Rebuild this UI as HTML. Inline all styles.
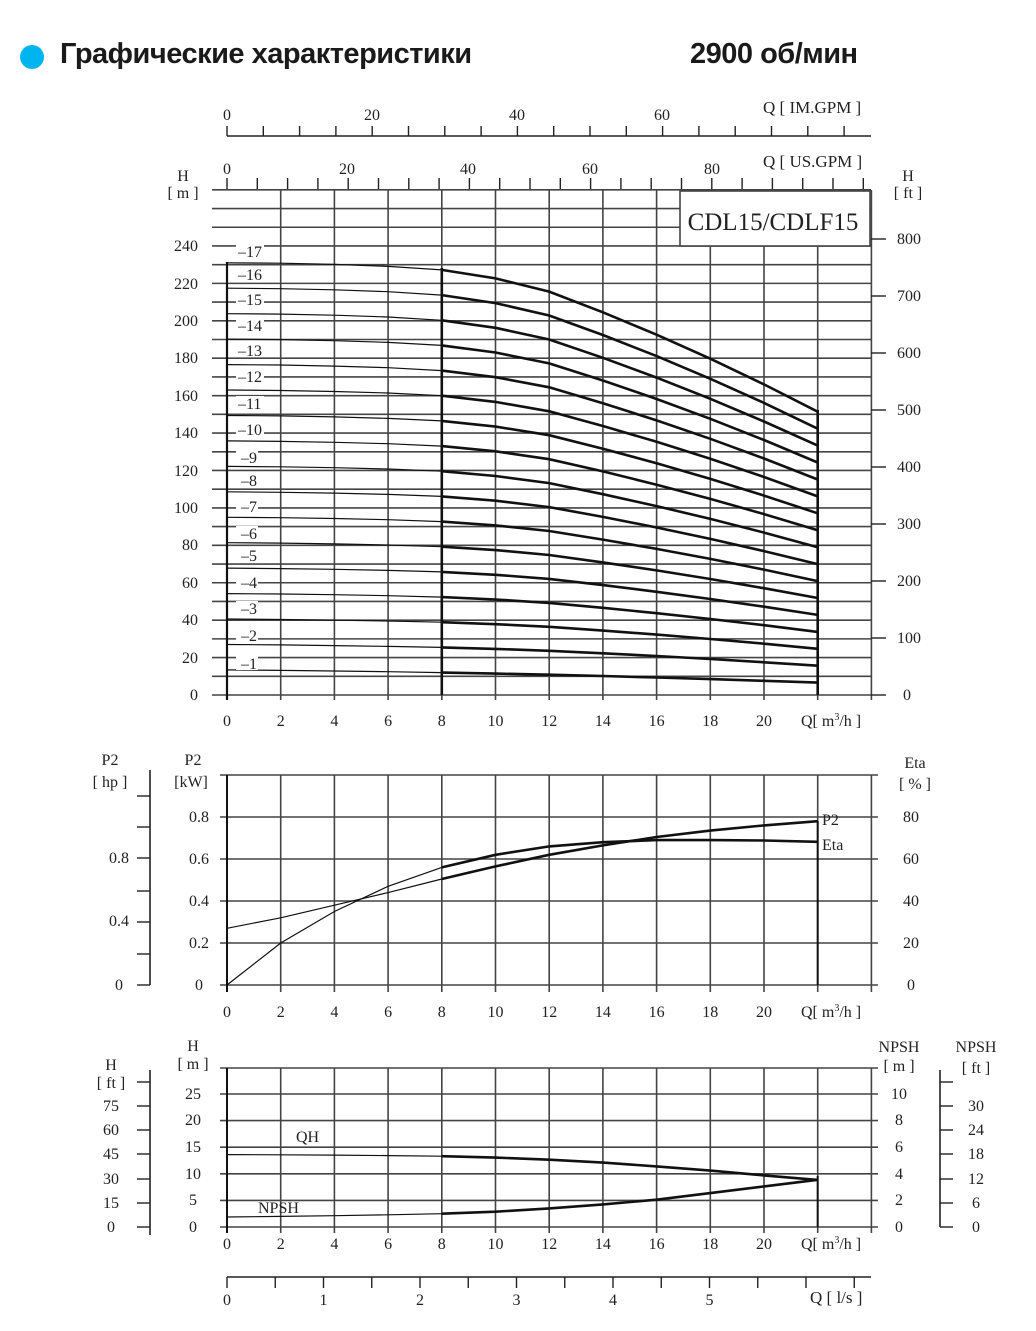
<!DOCTYPE html>
<html><head><meta charset="utf-8"><style>
html,body{margin:0;padding:0;background:#fff;}
body{width:1036px;height:1331px;position:relative;overflow:hidden;}
.h{position:absolute;font-family:"Liberation Sans","DejaVu Sans",sans-serif;font-weight:bold;font-size:29px;color:#1a1a1a;top:38px;letter-spacing:-0.5px;}
svg text{font-family:"Liberation Serif",serif;font-size:16px;fill:#222;}
</style></head><body>
<div style="position:absolute;left:20px;top:45px;width:24px;height:24px;border-radius:50%;background:#00b4ef;"></div>
<div class="h" style="left:60px;">Графические характеристики</div>
<div class="h" style="left:690px;">2900 об/мин</div>
<svg width="1036" height="1331" style="position:absolute;left:0;top:0" xmlns="http://www.w3.org/2000/svg">
<g id="grid" stroke="#444" stroke-width="1.6" fill="none"></g>
<g id="curves" stroke="#111" fill="none"></g>
<rect x="680" y="191" width="190" height="55" fill="#fff" stroke="#444" stroke-width="1.6"/>
<text x="773" y="230" text-anchor="middle" style="font-size:25px">CDL15/CDLF15</text>
<g text-anchor="middle">
<text x="227" y="120">0</text><text x="372" y="120">20</text><text x="517" y="120">40</text><text x="662" y="120">60</text>
<text x="227" y="174">0</text><text x="347" y="174">20</text><text x="468" y="174">40</text><text x="590" y="174">60</text><text x="712" y="174">80</text>
</g>
<text x="763" y="113" style="font-size:17px">Q  [ IM.GPM ]</text>
<text x="763" y="167" style="font-size:17px">Q  [ US.GPM ]</text>
<g text-anchor="middle">
<text x="183" y="181">H</text><text x="183" y="198">[ m ]</text>
<text x="908" y="181">H</text><text x="908" y="198">[ ft ]</text>
</g>
<g text-anchor="end">
<text x="198" y="700">0</text><text x="198" y="663">20</text><text x="198" y="625">40</text><text x="198" y="588">60</text><text x="198" y="550">80</text><text x="198" y="513">100</text><text x="198" y="476">120</text><text x="198" y="438">140</text><text x="198" y="401">160</text><text x="198" y="363">180</text><text x="198" y="326">200</text><text x="198" y="289">220</text><text x="198" y="251">240</text>
</g>
<g>
<text x="903" y="700">0</text><text x="897" y="643">100</text><text x="897" y="586">200</text><text x="897" y="529">300</text><text x="897" y="472">400</text><text x="897" y="415">500</text><text x="897" y="358">600</text><text x="897" y="301">700</text><text x="897" y="244">800</text>
</g>
<g id="stlab" style="font-size:15px"></g>
</svg>
<script>
const NS="http://www.w3.org/2000/svg";
const G=document.getElementById('grid'),C=document.getElementById('curves'),svg=document.querySelector('svg');
function el(p,t,a,txt){const e=document.createElementNS(NS,t);for(const k in a)e.setAttribute(k,a[k]);if(txt!==undefined)e.textContent=txt;p.appendChild(e);return e;}
function L(x1,y1,x2,y2,w,c){el(G,'line',{x1,y1,x2,y2,'stroke-width':w||1.6,stroke:c||'#444'});}
function T(x,y,s,anchor,size){el(svg,'text',{x,y,'text-anchor':anchor||'middle',style:size?('font-size:'+size+'px'):''},s);}
const X=q=>227+26.85*q;
L(227,136,871,136,1.6,'#222');for(let k=0;k<=17;k++)L(227+36.3*k,126,227+36.3*k,136,1.4,'#222');
for(let k=0;k<=21;k++)L(227+30.3*k,178,227+30.3*k,190,1.4,'#222');
for(let k=0;k<=27;k++){const y=695-18.71*k;L(212,y,871,y);}
for(let q=2;q<=24;q+=2)L(X(q),190,X(q),700);
for(let m=0;m<=8;m++){const y=695-57*m;L(871,y,886,y,1.4,'#222');}
L(227,262,227,700,2.2,'#111');
const Qs=[0,2,4,6,8,10,12,14,16,18,20,22];
const a=q=>13.4-0.1*q-0.0095*q*q;
const bt=[13.6,13.6,13.58,13.54,13.45,13.2,12.8,12.15,11.45,10.7,9.9,9.05];
function path(pts){return 'M'+pts.map(p=>p[0].toFixed(1)+','+p[1].toFixed(1)).join(' L');}
for(let n=1;n<=17;n++){
 const pts=Qs.map((q,i)=>[X(q),695-1.871*(a(q)+(n-1)*bt[i])]);
 el(C,'path',{d:path(pts.slice(0,5)),'stroke-width':1.2});
 el(C,'path',{d:path(pts.slice(4)),'stroke-width':2.6});
}
el(C,'line',{x1:X(8),y1:268,x2:X(8),y2:695,'stroke-width':2.6});
el(C,'line',{x1:X(22),y1:410,x2:X(22),y2:695,'stroke-width':2.6});
const ly=[668,640,613,587,560,538,511,485,462,434,408,381,355,330,304,279,256];
const SL=document.getElementById('stlab');
for(let n=1;n<=17;n++){const y=ly[n-1];el(SL,'rect',{x:236,y:y-12,width:n>9?28:22,height:14,fill:'#fff'});el(SL,'text',{x:n>9?238:241,y:y+1},'\u2013'+n);}
function xl(y){for(let q=0;q<=20;q+=2)T(X(q),y,String(q));const tt=el(svg,'text',{x:801,y});tt.innerHTML='Q[ m<tspan dy="-6" style="font-size:10px">3</tspan><tspan dy="6">/h ]</tspan>';}
xl(726);
for(const y of [775,817,859,901,943,985])L(220,y,878,y);
for(let q=2;q<=24;q+=2)L(X(q),775,X(q),992);
L(227,775,227,992,2,'#111');
L(150,770,150,985,1.6,'#222');for(const y of [985,954,922,891,858,827,796])L(137,y,150,y,1.4,'#222');
const P2=[0.27,0.32,0.38,0.44,0.505,0.565,0.62,0.665,0.705,0.735,0.76,0.78].map((p,i)=>[X(Qs[i]),985-210*p]);
const ET=[0,20,35,47,56,62,66,68,69,69,68.8,68.2].map((e,i)=>[X(Qs[i]),985-2.1*e]);
for(const P of [P2,ET]){el(C,'path',{d:path(P.slice(0,5)),'stroke-width':1.2});el(C,'path',{d:path(P.slice(4)),'stroke-width':2.6});}
el(C,'line',{x1:X(22),y1:821,x2:X(22),y2:985,'stroke-width':2});
T(822,825,'P2','start');T(822,850,'Eta','start');
T(110,765,'P2');T(110,787,'[ hp ]');T(193,765,'P2');T(191,787,'[kW]');T(915,768,'Eta');T(915,789,'[ % ]');
T(119,990,'0');T(119,926,'0.4');T(119,863,'0.8');
[['0',990],['0.2',948],['0.4',906],['0.6',864],['0.8',822]].forEach(v=>T(199,v[1],v[0]));
[['0',990],['20',948],['40',906],['60',864],['80',822]].forEach(v=>T(911,v[1],v[0]));
xl(1017);
for(const y of [1068,1094,1120.6,1147.2,1173.8,1200.4,1227])L(220,y,878,y);
for(let q=2;q<=24;q+=2)L(X(q),1068,X(q),1233);
L(227,1068,227,1233,2,'#111');
L(150,1070,150,1235,1.6,'#222');L(940,1070,940,1227,1.6,'#222');
for(const y of [1227,1203,1179,1154,1130,1106,1082]){L(137,y,150,y,1.4,'#222');L(940,y,953,y,1.4,'#222');}
const qh=[13.6,13.58,13.52,13.42,13.3,13.05,12.65,12.1,11.4,10.6,9.7,8.85].map((h,i)=>[X(Qs[i]),1227-5.32*h]);
const np=[0.75,0.8,0.85,0.92,1.0,1.15,1.4,1.7,2.05,2.55,3.05,3.55].map((h,i)=>[X(Qs[i]),1227-13.3*h]);
for(const P of [qh,np]){el(C,'path',{d:path(P.slice(0,5)),'stroke-width':1.2});el(C,'path',{d:path(P.slice(4)),'stroke-width':2.6});}
el(C,'line',{x1:X(22),y1:1176,x2:X(22),y2:1227,'stroke-width':2});
T(296,1142,'QH','start');T(258,1213,'NPSH','start');
T(111,1070,'H');T(111,1088,'[ ft ]');T(193,1051,'H');T(193,1069,'[ m ]');
T(899,1052,'NPSH');T(899,1071,'[ m ]');T(976,1052,'NPSH');T(976,1073,'[ ft ]');
[['0',1232],['15',1208],['30',1184],['45',1159],['60',1135],['75',1111]].forEach(v=>T(111,v[1],v[0]));
[['0',1232],['5',1205],['10',1179],['15',1152],['20',1125],['25',1099]].forEach(v=>T(193,v[1],v[0]));
[['0',1232],['2',1205],['4',1179],['6',1152],['8',1125],['10',1099]].forEach(v=>T(899,v[1],v[0]));
[['0',1232],['6',1208],['12',1184],['18',1159],['24',1135],['30',1111]].forEach(v=>T(976,v[1],v[0]));
xl(1249);
L(227,1277,871,1277,1.6,'#222');for(let k=0;k<=13;k++)L(227+48.25*k,1277,227+48.25*k,1288,1.4,'#222');
[0,1,2,3,4,5].forEach(k=>T(227+96.5*k,1305,String(k)));
T(810,1303,'Q  [ l/s ]','start',17);
</script>
</body></html>
